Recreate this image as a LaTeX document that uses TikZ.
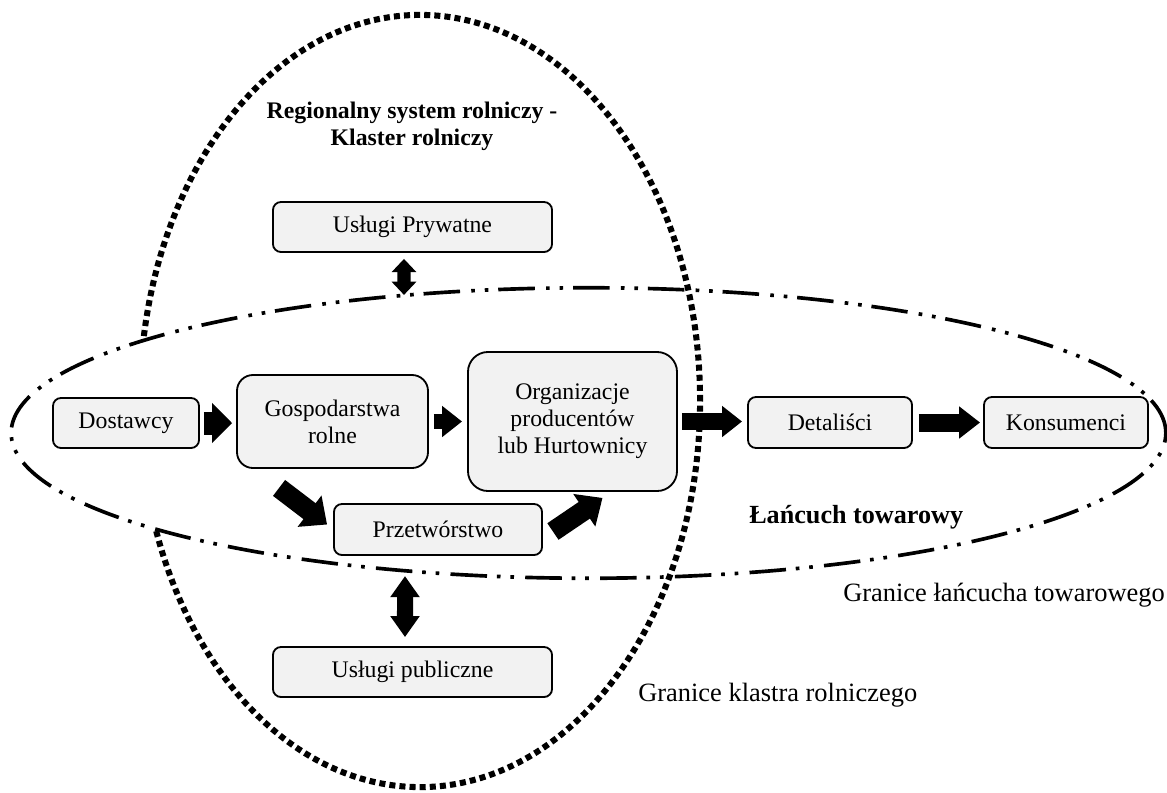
\documentclass[tikz,border=0pt]{standalone}
\usepackage{fontspec}
\setmainfont{Liberation Serif}
\usetikzlibrary{arrows.meta,calc}
\definecolor{boxgray}{HTML}{F2F2F2}
\begin{document}
\fontsize{16.9}{19.3}\selectfont
\begin{tikzpicture}[x=0.025cm,y=-0.025cm,
  box/.style={draw, line width=1.3pt, fill=boxgray, rounded corners=0.2cm, inner sep=0pt, align=center},
  chainline/.style={line width=2.6pt, dash pattern=on 26pt off 7pt on 2.6pt off 7pt on 2.6pt off 8pt},
  clusterline/.style={line width=4.3pt, dash pattern=on 4.3pt off 2.9pt},
  blk/.style n args={3}{line width=#1, -{Triangle[length=#2, width=#3]}},
  dblk/.style n args={3}{line width=#1, {Triangle[length=#2, width=#3]}-{Triangle[length=#2, width=#3]}},
  lbl/.style={inner sep=0pt},
  biglbl/.style={inner sep=0pt, font=\fontsize{18.8}{22}\selectfont}
]
\useasboundingbox (0,0) rectangle (1167,792);

% boundaries
\draw[clusterline] (420,401) ellipse [x radius=7cm, y radius=9.65cm];
\begin{scope}
  \clip (0,0) rectangle (420,792);
  \fill[white] (588.5,433) ellipse [x radius=14.43cm, y radius=3.63cm];
\end{scope}
\draw[chainline] (588.5,433) ellipse [x radius=14.43cm, y radius=3.63cm];

% nodes
\node[box, minimum width=3.65cm, minimum height=1.25cm] (dost) at (126,423) {Dostawcy};
\node[box, rounded corners=0.4cm, minimum width=4.775cm, minimum height=2.325cm] (gosp) at (332.5,421.5) {Gospodarstwa\\rolne};
\node[box, rounded corners=0.5cm, minimum width=5.225cm, minimum height=3.475cm] (org) at (572.5,421.5) {Organizacje\\producentów\\lub Hurtownicy};
\node[box, minimum width=4.1cm, minimum height=1.275cm] (det) at (830,422.5) {Detaliści};
\node[box, minimum width=4.1cm, minimum height=1.275cm] (kons) at (1066,422.5) {Konsumenci};
\node[box, minimum width=6.975cm, minimum height=1.25cm] (pryw) at (412.5,227) {Usługi Prywatne};
\node[box, minimum width=5.2cm, minimum height=1.275cm] (przet) at (438,529.5) {Przetwórstwo};
\node[box, minimum width=6.975cm, minimum height=1.25cm] (publ) at (412.5,672) {Usługi publiczne};

% labels
\node[lbl, font=\bfseries, align=center] (title) at (412,126) {Regionalny system rolniczy -\\Klaster rolniczy};
\node[biglbl, font=\fontsize{18.6}{22}\selectfont\bfseries, anchor=west] (chain) at (749,517) {Łańcuch towarowy};
\node[biglbl, anchor=west] (gch) at (843,595) {Granice łańcucha towarowego};
\node[biglbl, anchor=west] (gkl) at (638,695) {Granice klastra rolniczego};

% arrows
\draw[blk={0.575cm}{0.5cm}{0.975cm}, shorten <=0.1cm, shorten >=0.1cm] (dost.east) -- (dost.east -| gosp.west);
\draw[blk={0.375cm}{0.5cm}{0.75cm}, shorten <=0.125cm, shorten >=0.125cm] (gosp.east) -- (gosp.east -| org.west);
\draw[blk={0.425cm}{0.5cm}{0.75cm}, shorten <=0.1cm, shorten >=0.125cm] (org.east) -- (org.east -| det.west);
\draw[blk={0.45cm}{0.525cm}{0.775cm}, shorten <=0.15cm, shorten >=0.075cm] (det.east) -- (kons.west);

\coordinate (a5s) at ($(gosp.south west)+(43,19)$);
\coordinate (a5e) at ($(przet.west)+(-6,-5)$);
\draw[blk={0.5cm}{0.55cm}{0.95cm}] (a5s) -- (a5e);
\coordinate (a6s) at ($(przet.east)+(10,2)$);
\coordinate (a6e) at ($(org.south)+(30,6)$);
\draw[blk={0.5cm}{0.55cm}{0.95cm}] (a6s) -- (a6e);

\coordinate (p7) at ($(pryw.south)+(-8.5,42)$);
\draw[dblk={0.33cm}{0.33cm}{0.6cm}] ([xshift=-0.2125cm,yshift=-0.15cm]pryw.south) -- (p7);
\coordinate (p8) at ($(publ.north)+(-7.5,-70)$);
\draw[dblk={0.4cm}{0.525cm}{0.7cm}] ([xshift=-0.1875cm,yshift=0.225cm]publ.north) -- (p8);
\end{tikzpicture}
\end{document}
